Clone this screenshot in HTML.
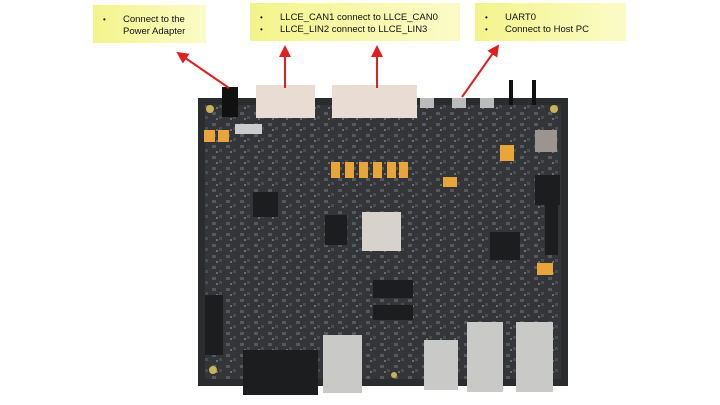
<!DOCTYPE html>
<html><head><style>
*{margin:0;padding:0;box-sizing:border-box}
body{width:720px;height:405px;background:#fff;position:relative;overflow:hidden;font-family:"Liberation Sans",Arial,sans-serif}
.box{position:absolute;background:linear-gradient(90deg,#f4f48c,#fbfbc8);font-size:9.5px;color:#111;line-height:12px}
.box div{position:relative;padding-left:30px}
.box div:before{content:"•";position:absolute;left:10px;font-size:8px}
</style></head><body>
<div class="box" style="left:93px;top:5px;width:113px;height:38px;padding-top:9px"><div>Connect to the<br>Power Adapter</div></div>
<div class="box" style="left:250px;top:3px;width:210px;height:38px;padding-top:9px"><div>LLCE_CAN1 connect to LLCE_CAN0</div><div>LLCE_LIN2 connect to LLCE_LIN3</div></div>
<div class="box" style="left:475px;top:3px;width:151px;height:38px;padding-top:9px"><div>UART0</div><div>Connect to Host PC</div></div>

<svg width="720" height="405" style="position:absolute;left:0;top:0">
<defs><marker id="m" markerWidth="6" markerHeight="6" refX="5" refY="3" orient="auto"><path d="M0,0L6,3L0,6z" fill="#e02020"/></marker>
<pattern id="p" width="14" height="11" patternUnits="userSpaceOnUse"><rect x="2" y="2" width="4" height="3" fill="#55585c"/><rect x="9" y="6" width="3" height="3" fill="#4a4d50"/><rect x="6" y="8" width="2" height="2" fill="#6a6d70"/></pattern></defs>
<rect x="198" y="98" width="370" height="288" fill="#2b2c2e"/>
<rect x="205" y="105" width="356" height="274" fill="#333538"/>
<rect x="205" y="105" width="356" height="274" fill="url(#p)"/>
<rect x="222" y="87" width="16" height="30" fill="#111"/>
<rect x="256" y="85" width="59" height="33" fill="#e9dcd3"/>
<rect x="332" y="85" width="85" height="33" fill="#e9dcd3"/>
<rect x="420" y="98" width="14" height="10" fill="#bbb"/>
<rect x="452" y="98" width="14" height="10" fill="#bbb"/>
<rect x="480" y="98" width="14" height="10" fill="#bbb"/>
<rect x="509" y="80" width="4" height="25" fill="#111"/><rect x="532" y="80" width="4" height="25" fill="#111"/>
<rect x="235" y="124" width="27" height="10" fill="#ccc"/>
<g fill="#e7a53a"><rect x="204" y="130" width="11" height="12"/><rect x="218" y="130" width="11" height="12"/>
<rect x="331" y="162" width="9" height="16"/><rect x="345" y="162" width="9" height="16"/><rect x="359" y="162" width="9" height="16"/><rect x="373" y="162" width="9" height="16"/><rect x="387" y="162" width="9" height="16"/><rect x="399" y="162" width="9" height="16"/>
<rect x="443" y="177" width="14" height="10"/><rect x="500" y="145" width="14" height="16"/><rect x="537" y="263" width="16" height="12"/></g>
<rect x="362" y="212" width="39" height="39" fill="#d8d2cc"/>
<g fill="#1c1d1f"><rect x="325" y="215" width="22" height="30"/><rect x="490" y="232" width="30" height="28"/><rect x="535" y="175" width="25" height="30"/><rect x="253" y="192" width="25" height="25"/><rect x="373" y="280" width="40" height="18"/><rect x="373" y="305" width="40" height="15"/><rect x="545" y="205" width="13" height="50"/><rect x="205" y="295" width="18" height="60"/><rect x="243" y="350" width="75" height="45"/></g>
<rect x="535" y="130" width="22" height="22" fill="#9a9590"/>
<g fill="#c9c9c7"><rect x="323" y="335" width="39" height="58"/><rect x="424" y="340" width="34" height="50"/><rect x="467" y="322" width="36" height="70"/><rect x="516" y="322" width="37" height="70"/></g>
<g fill="#c8b25a"><circle cx="210" cy="109" r="4"/><circle cx="554" cy="109" r="4"/><circle cx="213" cy="370" r="4"/><circle cx="394" cy="375" r="3"/></g>
<g stroke="#e02020" stroke-width="2" fill="none" marker-end="url(#m)">
<line x1="229" y1="88" x2="178" y2="53"/>
<line x1="285" y1="88" x2="285" y2="47"/>
<line x1="377" y1="88" x2="377" y2="47"/>
<line x1="462" y1="97" x2="498" y2="46"/>
</g>
</svg>
</body></html>
